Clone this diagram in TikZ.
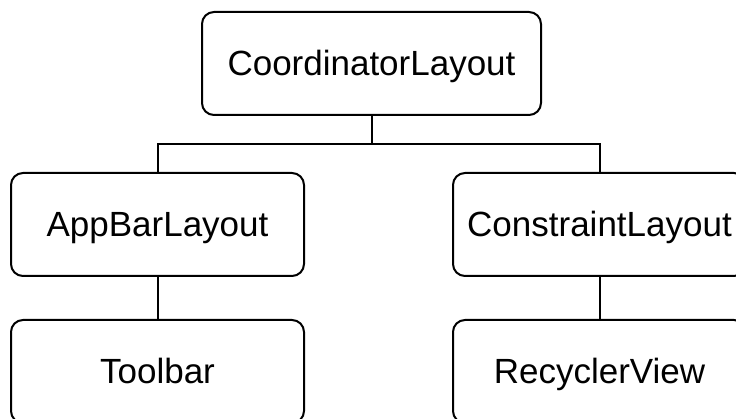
\documentclass[tikz,border=0pt]{standalone}
\usepackage{fontspec}
\setmainfont{Liberation Sans}
\begin{document}
\begin{tikzpicture}[x=1pt,y=-1pt,
  box/.style={draw=black, line width=2pt, rounded corners=12pt, rectangle,
    minimum height=103pt, inner sep=0pt, text height=25pt, text depth=0pt,
    font=\fontsize{35pt}{40pt}\selectfont},
  wide/.style={minimum width=339pt},
  narrow/.style={minimum width=293pt},
  link/.style={draw=black, line width=2pt}]
\clip (0,0) rectangle (736,419);
\fill[white] (0,0) rectangle (736,419);
\node[box,wide]   (coord) at (371.5,63.5)  {CoordinatorLayout};
\node[box,narrow] (app)   at (157.5,224.5) {AppBarLayout};
\node[box,narrow] (con)   at (599.5,224.5) {ConstraintLayout};
\node[box,narrow] (tool)  at (157.5,371.5) {Toolbar};
\node[box,narrow] (rec)   at (599.5,371.5) {RecyclerView};
\coordinate (j) at (371.5,144);
\draw[link] (coord.south) -- (j);
\draw[link] (app.north) |- (j) -| (con.north);
\draw[link] (app.south) -- (tool.north);
\draw[link] (con.south) -- (rec.north);
\end{tikzpicture}
\end{document}
